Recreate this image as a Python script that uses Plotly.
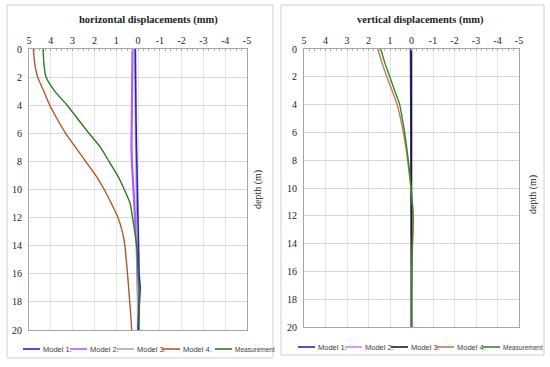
import plotly.graph_objects as go

W, H = 550, 367

depth = [0, 1, 2, 3, 4, 5, 6, 7, 8, 9, 10, 11, 12, 13, 14, 15, 16, 17, 18, 19, 20]

# horizontal displacements (mm)
h_model1 = [0.12, 0.12, 0.11, 0.10, 0.10, 0.09, 0.08, 0.07, 0.06, 0.05, 0.04, 0.03, 0.02, 0.01, 0.00, -0.02, -0.05, -0.10, -0.06, -0.02, 0.00]
h_model2 = [0.25, 0.26, 0.27, 0.28, 0.29, 0.30, 0.30, 0.30, 0.28, 0.25, 0.22, 0.18, 0.14, 0.10, 0.06, 0.04, 0.02, 0.01, 0.00, 0.00, 0.00]
h_model3 = [0.16, 0.16, 0.15, 0.15, 0.14, 0.13, 0.12, 0.11, 0.10, 0.09, 0.08, 0.07, 0.06, 0.05, 0.04, 0.03, 0.02, 0.01, 0.00, 0.00, 0.00]
h_model4 = [4.80, 4.74, 4.60, 4.32, 4.05, 3.70, 3.32, 2.86, 2.40, 1.94, 1.55, 1.22, 0.92, 0.72, 0.60, 0.54, 0.48, 0.43, 0.38, 0.33, 0.29]
h_meas = [4.35, 4.32, 4.22, 3.82, 3.25, 2.75, 2.25, 1.72, 1.33, 0.94, 0.63, 0.36, 0.25, 0.15, 0.06, 0.02, 0.00, -0.05, -0.05, -0.05, -0.05]

# vertical displacements (mm)
v_model1 = [0.05, 0.05, 0.05, 0.04, 0.04, 0.04, 0.03, 0.03, 0.03, 0.02, 0.02, 0.02, 0.01, 0.01, 0.01, 0.01, 0.00, 0.00, 0.00, 0.00, 0.00]
v_model2 = [0.03, 0.03, 0.03, 0.03, 0.02, 0.02, 0.02, 0.02, 0.02, 0.01, 0.01, 0.01, 0.01, 0.01, 0.00, 0.00, 0.00, 0.00, 0.00, 0.00, 0.00]
v_model3 = [0.00, 0.00, 0.00, 0.00, 0.00, 0.00, 0.00, 0.00, 0.00, 0.00, 0.00, 0.00, 0.00, 0.00, 0.00, 0.00, 0.00, 0.00, 0.00, 0.00, 0.00]
v_model4 = [1.57, 1.37, 1.15, 0.90, 0.67, 0.51, 0.38, 0.27, 0.18, 0.10, 0.03, -0.04, -0.08, -0.07, -0.05, -0.03, -0.02, -0.01, 0.00, 0.00, 0.00]
v_meas = [1.43, 1.24, 1.01, 0.78, 0.55, 0.43, 0.32, 0.23, 0.15, 0.08, 0.02, -0.03, -0.07, -0.06, -0.04, -0.03, -0.02, -0.01, 0.00, 0.00, 0.00]

series_names = ["Model 1.", "Model 2.", "Model 3.", "Model 4.", "Measurement"]
colors_left = ["#2a1fc4", "#b45cf5", "#a8a4c4", "#b0582a", "#2f7a1e"]
colors_right = ["#2a1fc4", "#d47cf0", "#1e1e1e", "#c8784a", "#2f8a2a"]

x_ticks = [5, 4, 3, 2, 1, 0, -1, -2, -3, -4, -5]
x_ticktext = ["5", "4", "3", "2", "1", "0", "-1", "-2", "-3", "-4", "-5"]
y_ticks = [0, 2, 4, 6, 8, 10, 12, 14, 16, 18, 20]

titles = ["horizontal displacements (mm)", "vertical displacements (mm)"]
ytitle = "depth (m)"

SERIF = "Liberation Serif"
SANS = "Liberation Sans"


def px(x):
    return x / W


def py(y):
    return 1 - y / H


fig = go.Figure()

left_data = [h_model1, h_model2, h_model3, h_model4, h_meas]
right_data = [v_model1, v_model2, v_model3, v_model4, v_meas]
widths = [1.6, 2.2, 1.2, 1.4, 1.4]
order = [1, 2, 0, 3, 4]

for i in order:
    fig.add_trace(go.Scatter(x=left_data[i], y=depth, mode="lines", name=series_names[i],
                             line=dict(color=colors_left[i], width=widths[i],
                                       shape="spline" if i >= 3 else "linear", smoothing=0.6),
                             xaxis="x", yaxis="y", showlegend=False))
for i in [1, 0, 2, 3, 4]:
    fig.add_trace(go.Scatter(x=right_data[i], y=depth, mode="lines", name=series_names[i],
                             line=dict(color=colors_right[i], width=1.4 if i != 2 else 1.6,
                                       shape="spline" if i >= 3 else "linear", smoothing=0.6),
                             xaxis="x2", yaxis="y2", showlegend=False))

axis_common_x = dict(range=[5, -5], side="top", tickvals=x_ticks, ticktext=x_ticktext,
                     showgrid=True, gridcolor="#e4e4e4", gridwidth=1, automargin=False,
                     showline=True, linecolor="#a6a6a6", linewidth=1, mirror=True,
                     zeroline=False, ticks="inside", ticklen=2, tickcolor="#a6a6a6",
                     tickfont=dict(family=SERIF, size=10, color="#222"),
                     minor=dict(ticks="inside", ticklen=2, tickcolor="#b0b0b0", dtick=0.25, showgrid=False))
axis_common_y = dict(range=[20, 0], tickvals=y_ticks, showgrid=True, gridcolor="#d6d6d6", gridwidth=1,
                     showline=True, linecolor="#a6a6a6", linewidth=1, mirror=True, automargin=False,
                     zeroline=False, ticks="", ticklabelstandoff=4,
                     tickfont=dict(family=SERIF, size=10, color="#222"))

fig.update_layout(
    width=W, height=H, margin=dict(l=0, r=0, t=0, b=0, autoexpand=False),
    paper_bgcolor="white", plot_bgcolor="white",
    xaxis=dict(domain=[px(29), px(247)], anchor="y", **axis_common_x),
    yaxis=dict(domain=[py(330), py(49)], anchor="x", **axis_common_y),
    xaxis2=dict(domain=[px(304), px(519)], anchor="y2", **axis_common_x),
    yaxis2=dict(domain=[py(327), py(49)], anchor="x2", **axis_common_y),
    showlegend=False,
)

shapes = []
annotations = []

# panel frames
for (x0, y0, x1, y1) in [(7, 5, 273, 358), (281, 5, 544, 355)]:
    shapes.append(dict(type="rect", xref="paper", yref="paper", x0=px(x0), x1=px(x1), y0=py(y1), y1=py(y0),
                       line=dict(color="#d0d0d0", width=1), fillcolor="rgba(0,0,0,0)", layer="below"))

# titles and y labels
for t, cx, lx, ly in [(titles[0], 148, 258, 190), (titles[1], 420, 533, 195)]:
    annotations.append(dict(text="<b>" + t + "</b>", x=px(cx), y=py(20), xref="paper", yref="paper",
                            xanchor="center", yanchor="middle",
                            showarrow=False, font=dict(family=SERIF, size=10.5, color="#222")))
    annotations.append(dict(text=ytitle, x=px(lx), y=py(ly), xref="paper", yref="paper",
                            xanchor="center", yanchor="middle",
                            showarrow=False, textangle=-90, font=dict(family=SERIF, size=10, color="#222")))

# legends (manual, compact)
sample_len = 17
for x_start, ly, cols, pitch in [(23, 349, colors_left, [47, 47, 46, 52]),
                                 (298, 347, colors_right, [47, 46, 46, 46])]:
    x = x_start
    for i, name in enumerate(series_names):
        shapes.append(dict(type="line", xref="paper", yref="paper", x0=px(x), x1=px(x + sample_len),
                           y0=py(ly), y1=py(ly), line=dict(color=cols[i], width=1.6)))
        annotations.append(dict(text=name, x=px(x + sample_len + 0.5), y=py(ly), xref="paper", yref="paper",
                                xanchor="left", yanchor="middle", showarrow=False,
                                font=dict(family=SANS, size=7.5 if i < 4 else 6.5, color="#404040")))
        if i < 4:
            x += pitch[i]

fig.update_layout(shapes=shapes, annotations=annotations)
fig.write_html("out.html", config={"displayModeBar": False},
               post_script="document.body.style.margin='0';document.body.style.padding='0';")
